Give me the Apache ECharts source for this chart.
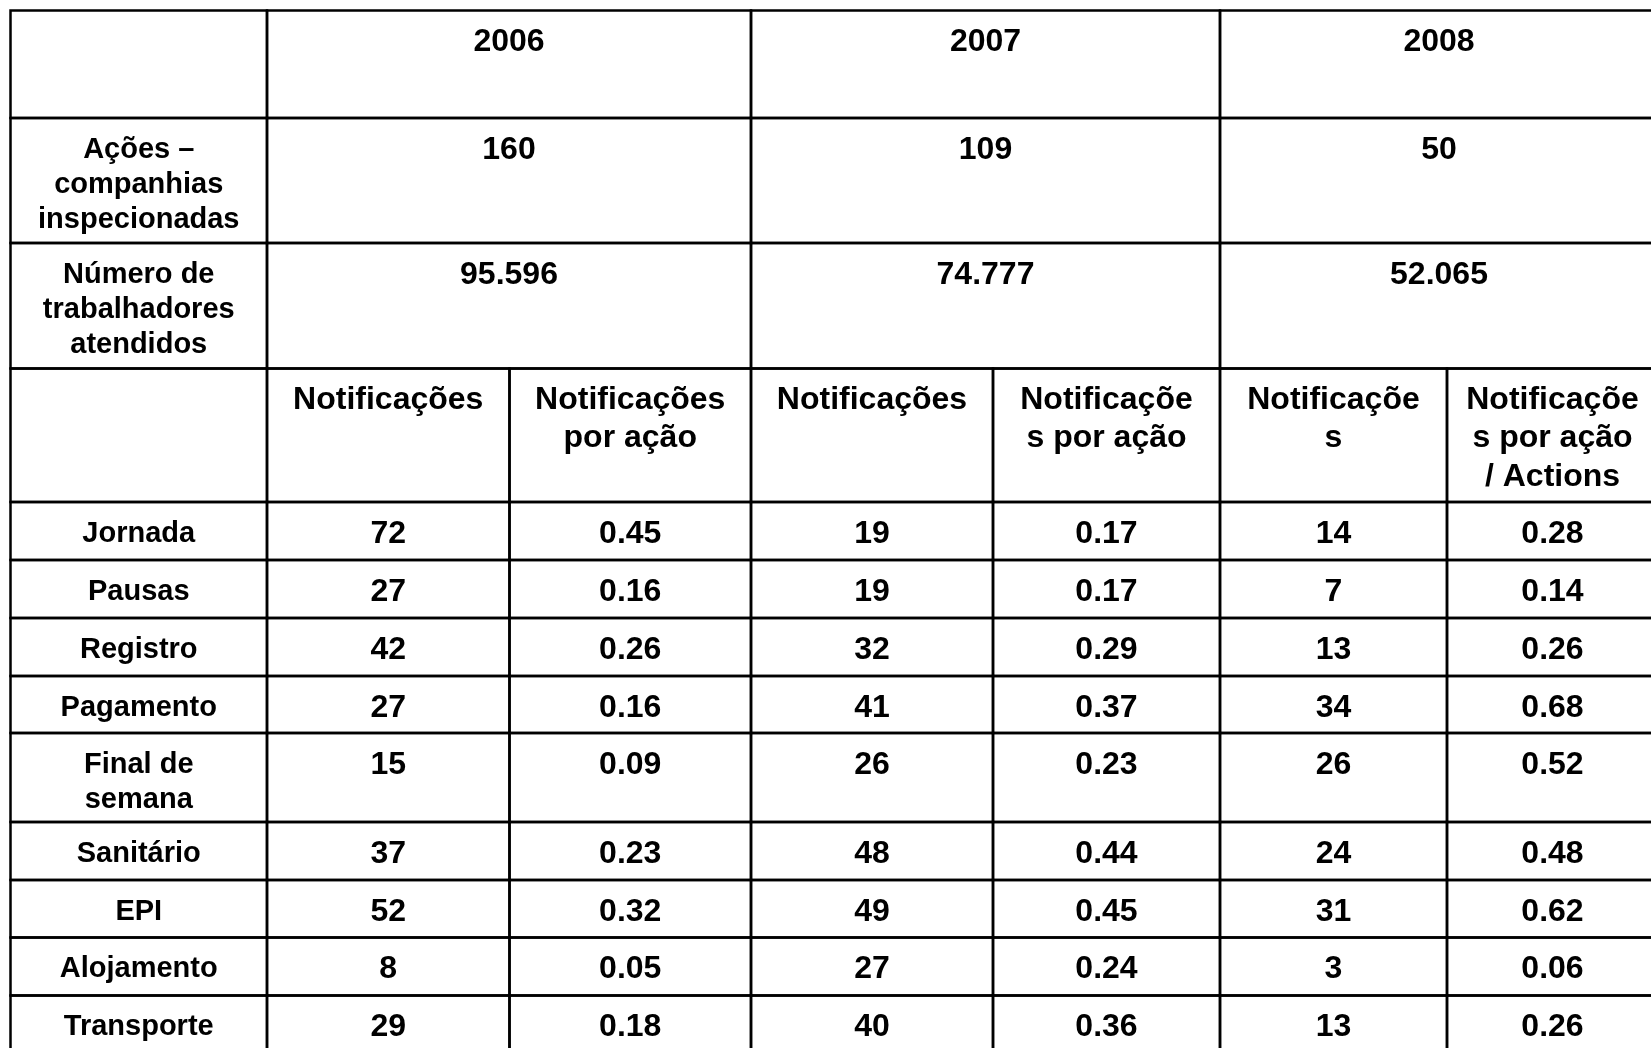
<!DOCTYPE html>
<html>
<head>
<meta charset="utf-8">
<script src="https://cdn.jsdelivr.net/npm/echarts@6/dist/echarts.min.js"></script>
<style>
  html, body { margin: 0; padding: 0; background: #ffffff; }
  #chart { width: 1651px; height: 1048px; }
</style>
</head>
<body>
<div id="chart"></div>
<script>
// ---------- DATA ----------
const years = ['2006', '2007', '2008'];
const acoes = ['160', '109', '50'];
const trabalhadores = ['95.596', '74.777', '52.065'];
const rowLabelAcoes = 'Ações –\ncompanhias\ninspecionadas';
const rowLabelTrab = 'Número de\ntrabalhadores\natendidos';
const subHeaders = ['Notificações', 'Notificações\npor ação', 'Notificações', 'Notificaçõe\ns por ação', 'Notificaçõe\ns', 'Notificaçõe\ns por ação\n/ Actions'];
const categories = ['Jornada', 'Pausas', 'Registro', 'Pagamento', 'Final de\nsemana', 'Sanitário', 'EPI', 'Alojamento', 'Transporte'];
const notif2006 = [72, 27, 42, 27, 15, 37, 52, 8, 29];
const porAcao2006 = [0.45, 0.16, 0.26, 0.16, 0.09, 0.23, 0.32, 0.05, 0.18];
const notif2007 = [19, 19, 32, 41, 26, 48, 49, 27, 40];
const porAcao2007 = [0.17, 0.17, 0.29, 0.37, 0.23, 0.44, 0.45, 0.24, 0.36];
const notif2008 = [14, 7, 13, 34, 26, 24, 31, 3, 13];
const porAcao2008 = [0.28, 0.14, 0.26, 0.68, 0.52, 0.48, 0.62, 0.06, 0.26];

// ---------- LAYOUT (table grid edges, in axis units) ----------
const colEdges = [10.5, 267, 509.5, 751, 993, 1220, 1447, 1658];
const rowEdges = [10.5, 118, 243, 368.5, 502, 560, 618, 676, 733, 822, 880, 937.5, 995.5, 1053.5];

// ---------- BUILD CELLS ----------
const cells = [];   // {c0,c1,r,text,kind}
function addCell(c0, c1, r, text, kind) {
  cells.push({ c0: c0, c1: c1, r: r, text: text, kind: kind });
}
// header row
addCell(0, 1, 0, '', 'label');
years.forEach((y, i) => addCell(1 + 2 * i, 3 + 2 * i, 0, y, 'value'));
// Ações
addCell(0, 1, 1, rowLabelAcoes, 'label');
acoes.forEach((v, i) => addCell(1 + 2 * i, 3 + 2 * i, 1, v, 'value'));
// trabalhadores
addCell(0, 1, 2, rowLabelTrab, 'label');
trabalhadores.forEach((v, i) => addCell(1 + 2 * i, 3 + 2 * i, 2, v, 'value'));
// sub headers
addCell(0, 1, 3, '', 'label');
subHeaders.forEach((h, i) => addCell(1 + i, 2 + i, 3, h, 'value'));
// data rows
const cols = [notif2006, porAcao2006, notif2007, porAcao2007, notif2008, porAcao2008];
categories.forEach((cat, k) => {
  addCell(0, 1, 4 + k, cat, 'label');
  cols.forEach((arr, j) => {
    const v = arr[k];
    addCell(1 + j, 2 + j, 4 + k, (j % 2 === 1) ? v.toFixed(2) : String(v), 'value');
  });
});

const seriesData = cells.map(c => [colEdges[c.c0], rowEdges[c.r], colEdges[c.c1], rowEdges[c.r + 1]]);

const chart = echarts.init(document.getElementById('chart'), null, { renderer: 'canvas' });
chart.setOption({
  backgroundColor: '#ffffff',
  animation: false,
  grid: { left: 0, right: 0, top: 0, bottom: 0 },
  xAxis: { type: 'value', min: 0, max: 1651, show: false },
  yAxis: { type: 'value', min: 0, max: 1048, inverse: true, show: false },
  series: [{
    type: 'custom',
    clip: true,
    encode: { x: [0, 2], y: [1, 3] },
    data: seriesData,
    renderItem: function (params, api) {
      const c = cells[params.dataIndex];
      const p0 = api.coord([api.value(0), api.value(1)]);
      const p1 = api.coord([api.value(2), api.value(3)]);
      const isLabel = c.kind === 'label';
      const fontSize = isLabel ? 29 : 32;
      const lh = isLabel ? 34.8 : 38.4;
      const pad = isLabel ? 14.5 : 12.5;
      return {
        type: 'group',
        children: [
          {
            type: 'rect',
            shape: { x: p0[0], y: p0[1], width: p1[0] - p0[0], height: p1[1] - p0[1] },
            style: { fill: 'none', stroke: '#000000', lineWidth: 2.5 }
          },
          {
            type: 'text',
            x: (p0[0] + p1[0]) / 2,
            y: p0[1] + pad,
            style: {
              text: c.text,
              fill: '#000000',
              fontSize: fontSize,
              fontWeight: 'bold',
              fontFamily: '"Liberation Sans", Arial, sans-serif',
              align: 'center',
              verticalAlign: 'top',
              lineHeight: lh
            }
          }
        ]
      };
    }
  }]
});
</script>
</body>
</html>
